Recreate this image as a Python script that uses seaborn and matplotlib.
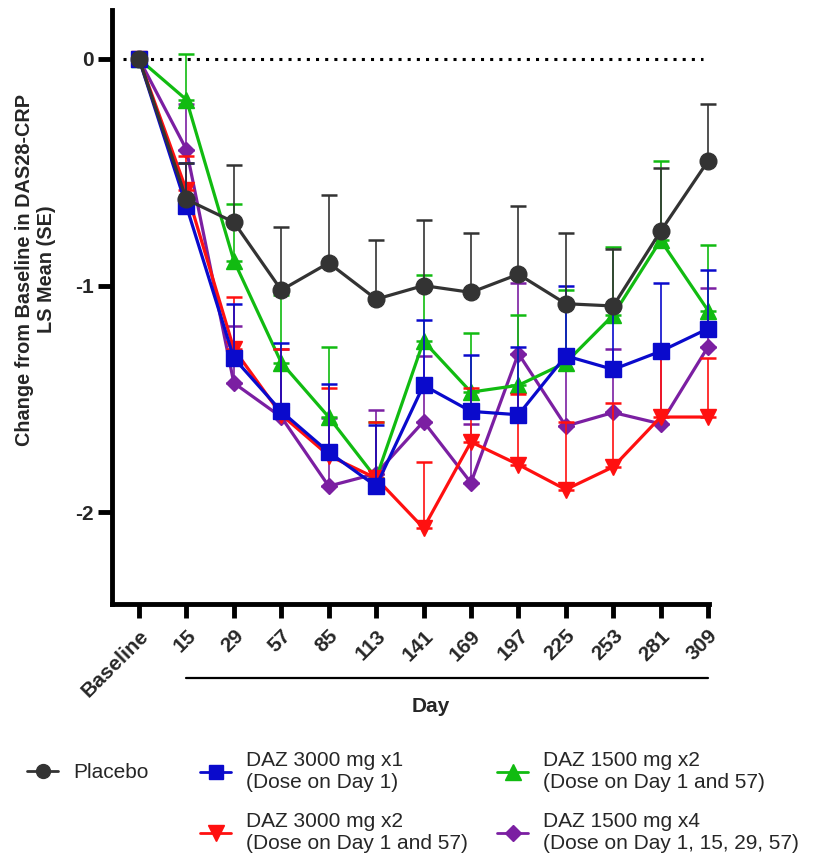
import matplotlib
matplotlib.use("Agg")
import matplotlib.pyplot as plt
import matplotlib.transforms as mtransforms
from matplotlib.lines import Line2D
import seaborn as sns
import pandas as pd
import numpy as np

# ---------------- data ----------------
days = ["Baseline", "15", "29", "57", "85", "113", "141", "169", "197", "225", "253", "281", "309"]

placebo = [0, -0.62, -0.72, -1.02, -0.90, -1.06, -1.00, -1.03, -0.95, -1.08, -1.09, -0.76, -0.45]
placebo_se = [0, 0.16, 0.25, 0.28, 0.30, 0.26, 0.29, 0.26, 0.30, 0.31, 0.25, 0.28, 0.25]

daz3000x1 = [0, -0.65, -1.32, -1.555, -1.735, -1.885, -1.44, -1.555, -1.57, -1.31, -1.37, -1.29, -1.19]
daz3000x1_se = [0, 0.19, 0.24, 0.30, 0.30, 0.27, 0.29, 0.25, 0.30, 0.31, 0.28, 0.30, 0.26]

daz3000x2 = [0, -0.58, -1.28, -1.57, -1.75, -1.85, -2.07, -1.69, -1.79, -1.90, -1.80, -1.58, -1.58]
daz3000x2_se = [0, 0.15, 0.23, 0.29, 0.30, 0.25, 0.29, 0.24, 0.31, 0.30, 0.28, 0.29, 0.26]

daz1500x2 = [0, -0.18, -0.89, -1.34, -1.58, -1.85, -1.245, -1.47, -1.44, -1.34, -1.13, -0.80, -1.11]
daz1500x2_se = [0, 0.20, 0.25, 0.30, 0.31, 0.25, 0.29, 0.26, 0.31, 0.32, 0.30, 0.35, 0.29]

daz1500x4 = [0, -0.40, -1.43, -1.58, -1.885, -1.83, -1.60, -1.87, -1.30, -1.62, -1.56, -1.61, -1.27]
daz1500x4_se = [0, 0.20, 0.25, 0.30, 0.30, 0.28, 0.29, 0.26, 0.31, 0.30, 0.28, 0.30, 0.26]

labels = ["Placebo",
          "DAZ 3000 mg x1\n(Dose on Day 1)",
          "DAZ 3000 mg x2\n(Dose on Day 1 and 57)",
          "DAZ 1500 mg x2\n(Dose on Day 1 and 57)",
          "DAZ 1500 mg x4\n(Dose on Day 1, 15, 29, 57)"]
y_ticks = [-2, -1, 0]

# ---------------- style ----------------
sns.set_theme(style="ticks")
plt.rcParams['font.family'] = ['Liberation Sans', 'DejaVu Sans']
plt.rcParams['axes.unicode_minus'] = False

fig = plt.figure(figsize=(8.31, 8.68), dpi=100)
ax = fig.add_axes([112 / 831, 1 - 604 / 868, (709 - 112) / 831, (604 - 10) / 868])

series = [
    # values, se, colour, marker, markersize, zorder
    (daz1500x4, daz1500x4_se, "#7b1fa2", "D", 8, 3),
    (daz1500x2, daz1500x2_se, "#11bb11", "^", 12, 4),
    (daz3000x2, daz3000x2_se, "#ff1010", "v", 12, 5),
    (daz3000x1, daz3000x1_se, "#0a0acc", "s", 11, 6),
    (placebo, placebo_se, "#333333", "o", 12, 7),
]

pos = np.arange(len(days))
for vals, se, col, mk, ms, z in series:
    df = pd.DataFrame({"pos": pos, "val": vals, "se": se})
    sub = df.iloc[1:]
    eb = ax.errorbar(sub["pos"], sub["val"], yerr=[np.zeros(len(sub)), sub["se"]],
                     fmt="none", ecolor=col, elinewidth=1.2, capsize=5.8, capthick=1.8,
                     zorder=z - 0.5)
    for art in eb.lines[1] + eb.lines[2]:
        art.set_clip_on(False)
    sns.lineplot(data=df, x="pos", y="val", ax=ax, color=col, marker=mk,
                 markersize=ms, markeredgecolor=col, markeredgewidth=1,
                 linewidth=2.3, zorder=z, legend=False, clip_on=False)

# dotted zero line
ax.axhline(0, xmin=0.018, xmax=0.99, color="black", lw=2.2,
           ls=(0, (1, 2)), zorder=1)

ax.set_xlim(-0.57, 12.02)
ax.set_ylim(-2.405, 0.216)
ax.set_xticks(pos)
ax.set_xticklabels(days, rotation=45, ha="right", rotation_mode="anchor",
                   fontsize=15, fontweight="bold")
ax.set_yticks(y_ticks)
ax.set_yticklabels([str(t) for t in y_ticks], fontsize=15, fontweight="bold")
ax.tick_params(axis="both", width=3.5, length=10, direction="out", color="black", pad=3)
ax.tick_params(axis="x", pad=6)
for s in ["top", "right"]:
    ax.spines[s].set_visible(False)
for s in ["left", "bottom"]:
    ax.spines[s].set_linewidth(3.5)
    ax.spines[s].set_color("black")
ax.set_xlabel("")
ax.set_ylabel("Change from Baseline in DAS28-CRP\nLS Mean (SE)", fontsize=14.3,
              fontweight="bold")
ax.yaxis.set_label_coords(-0.094, 0.563)

# "Day" underline and label
trans = mtransforms.blended_transform_factory(ax.transData, ax.transAxes)
ax.plot([pos[1], pos[-1]], [-0.124, -0.124], transform=trans, clip_on=False,
        color="black", lw=1.6)
ax.text(6.15, -0.172, "Day", transform=trans, ha="center", va="center",
        fontsize=15, fontweight="bold")

# legends
def handle(col, mk, ms):
    return Line2D([], [], color=col, marker=mk, markersize=ms, markeredgecolor=col, lw=2)

hp = handle("#333333", "o", 10)
hb = handle("#0a0acc", "s", 10)
hr = handle("#ff1010", "v", 11)
hg = handle("#11bb11", "^", 11)
hv = handle("#7b1fa2", "D", 8)

common = dict(frameon=False, fontsize=15, handlelength=1.5, handletextpad=0.7,
              borderpad=0, borderaxespad=0, labelspacing=0.95)
fig.legend([hp], [labels[0]], loc="center left",
           bbox_to_anchor=(27 / 831, 1 - 773 / 868), **common)
fig.legend([hb, hr], [labels[1], labels[2]], loc="upper left",
           bbox_to_anchor=(200 / 831, 1 - 751 / 868), **common)
fig.legend([hg, hv], [labels[3], labels[4]], loc="upper left",
           bbox_to_anchor=(497 / 831, 1 - 751 / 868), **common)

fig.savefig("out.png", dpi=100)
